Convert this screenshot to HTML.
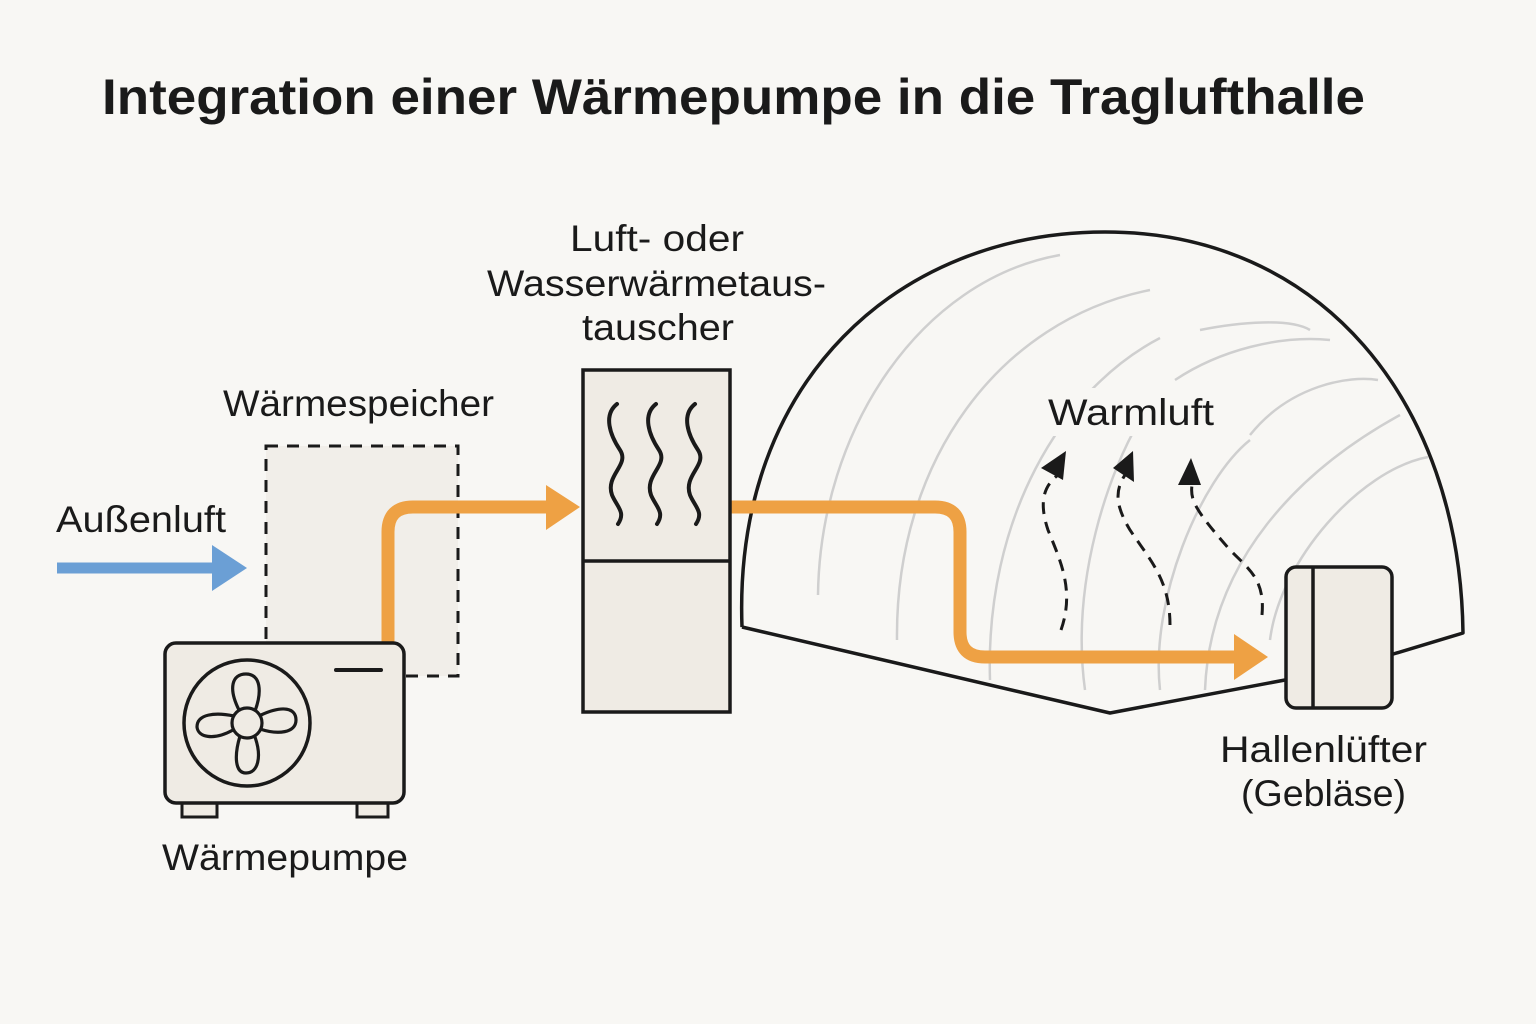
<!DOCTYPE html>
<html><head><meta charset="utf-8"><style>
html,body{margin:0;padding:0;background:#f8f7f4;}
svg{display:block;}
text{font-family:"Liberation Sans","DejaVu Sans",sans-serif;fill:#1a1a1a;}
</style></head><body>
<svg width="1536" height="1024" viewBox="0 0 1536 1024" xmlns="http://www.w3.org/2000/svg">
<rect width="1536" height="1024" fill="#f8f7f4"/>
<text x="102" y="114" font-size="50" font-weight="bold" textLength="1263" lengthAdjust="spacingAndGlyphs">Integration einer Wärmepumpe in die Traglufthalle</text>

<!-- Dome -->
<path d="M742,627 C733,380 900,232 1105,232 C1320,232 1460,400 1463,633 L1390,655 M1285,680 L1110,713 L742,627" fill="#f8f7f4" stroke="#1a1a1a" stroke-width="3.5" stroke-linejoin="round"/>
<g fill="none" stroke="#cfcfcf" stroke-width="2.5">
<path d="M818,595 C820,430 920,280 1060,255"/>
<path d="M897,640 C895,460 1000,320 1150,290"/>
<path d="M990,680 C985,520 1060,390 1160,338 M1200,330 C1240,322 1290,318 1310,330"/>
<path d="M1085,690 C1070,580 1110,470 1140,420 M1175,380 C1220,350 1280,335 1330,340"/>
<path d="M1160,690 C1150,600 1200,480 1250,440 M1250,435 C1290,385 1350,375 1378,380"/>
<path d="M1205,690 C1210,560 1300,470 1400,415"/>
<path d="M1270,640 C1280,560 1360,470 1428,457"/>
</g>
<rect x="1040" y="388" width="185" height="48" fill="#f8f7f4"/>

<!-- Fan unit -->
<rect x="1286" y="567" width="106" height="141" rx="10" fill="#efebe4" stroke="#1a1a1a" stroke-width="3.5"/>
<line x1="1313" y1="567" x2="1313" y2="708" stroke="#1a1a1a" stroke-width="3.5"/>

<!-- Warmluft dashed arrows -->
<g fill="none" stroke="#1a1a1a" stroke-width="3" stroke-dasharray="12,8">
<path d="M1061,630 C1075,590 1060,560 1048,530 C1038,500 1045,485 1058,475"/>
<path d="M1170,625 C1170,580 1150,560 1130,530 C1115,505 1115,490 1125,475"/>
<path d="M1262,615 C1265,580 1250,570 1230,550 C1195,510 1190,500 1192,485"/>
</g>
<g fill="#1a1a1a">
<polygon points="1066,451 1041,468 1063,480"/>
<polygon points="1133,451 1113,468 1134,482"/>
<polygon points="1191,458 1178,485 1201,485"/>
</g>
<text x="1048" y="425" font-size="37" textLength="166" lengthAdjust="spacingAndGlyphs">Warmluft</text>

<!-- orange into hall -->
<path d="M731,507 L935,507 Q960,507 960,532 L960,632 Q960,657 985,657 L1236,657" fill="none" stroke="#eea144" stroke-width="13"/>
<polygon points="1234,634 1268,657 1234,680" fill="#eea144"/>

<!-- Dashed storage -->
<rect x="266" y="446" width="192" height="230" fill="#f1eee9" stroke="#1a1a1a" stroke-width="3" stroke-dasharray="12,9"/>
<text x="223" y="416" font-size="37" textLength="271" lengthAdjust="spacingAndGlyphs">Wärmespeicher</text>

<!-- orange to exchanger -->
<path d="M388,645 L388,532 Q388,507 413,507 L548,507" fill="none" stroke="#eea144" stroke-width="13"/>
<polygon points="546,485 580,507 546,530" fill="#eea144"/>

<!-- blue arrow -->
<line x1="57" y1="568" x2="214" y2="568" stroke="#6b9fd5" stroke-width="11"/>
<polygon points="212,545 247,568 212,591" fill="#6b9fd5"/>
<text x="56" y="532" font-size="37" textLength="170" lengthAdjust="spacingAndGlyphs">Außenluft</text>

<!-- heat pump -->
<rect x="182" y="800" width="35" height="17" fill="#efebe4" stroke="#1a1a1a" stroke-width="3"/>
<rect x="357" y="800" width="31" height="17" fill="#efebe4" stroke="#1a1a1a" stroke-width="3"/>
<rect x="165" y="643" width="239" height="160" rx="11" fill="#efebe4" stroke="#1a1a1a" stroke-width="3.5"/>
<line x1="336" y1="670" x2="381" y2="670" stroke="#1a1a1a" stroke-width="4" stroke-linecap="round"/>
<circle cx="247" cy="723" r="63" fill="none" stroke="#1a1a1a" stroke-width="3.5"/>
<g fill="none" stroke="#1a1a1a" stroke-width="3.2">
<path d="M239,710 C228,688 232,674 246,674 C261,674 262,692 255,711"/>
<path d="M261,715 C283,705 296,708 296,720 C296,733 278,735 260,729"/>
<path d="M255,737 C262,757 258,773 246,773 C235,773 234,756 240,736"/>
<path d="M233,730 C213,741 198,737 197,727 C197,714 215,712 234,716"/>
</g>
<circle cx="247" cy="723" r="15" fill="#efebe4" stroke="#1a1a1a" stroke-width="3.2"/>
<text x="162" y="870" font-size="37" textLength="246" lengthAdjust="spacingAndGlyphs">Wärmepumpe</text>

<!-- exchanger -->
<rect x="583" y="370" width="147" height="342" fill="#efebe4" stroke="#1a1a1a" stroke-width="3.5"/>
<line x1="583" y1="561" x2="730" y2="561" stroke="#1a1a1a" stroke-width="3.5"/>
<g fill="none" stroke="#1a1a1a" stroke-width="4" stroke-linecap="round">
<path d="M617,404 C603,415 610,435 620,450 C630,465 605,475 612,495 C617,507 626,512 618,524"/>
<path d="M656,404 C642,415 649,435 659,450 C669,465 644,475 651,495 C656,507 665,512 657,524"/>
<path d="M695,404 C681,415 688,435 698,450 C708,465 683,475 690,495 C695,507 704,512 696,524"/>
</g>
<g font-size="37">
<text x="570" y="251" textLength="174" lengthAdjust="spacingAndGlyphs">Luft- oder</text>
<text x="487" y="296" textLength="339" lengthAdjust="spacingAndGlyphs">Wasserwärmetaus-</text>
<text x="582" y="340" textLength="152" lengthAdjust="spacingAndGlyphs">tauscher</text>
<text x="1220" y="762" textLength="207" lengthAdjust="spacingAndGlyphs">Hallenlüfter</text>
<text x="1241" y="806" textLength="165" lengthAdjust="spacingAndGlyphs">(Gebläse)</text>
</g>
</svg>
</body></html>
